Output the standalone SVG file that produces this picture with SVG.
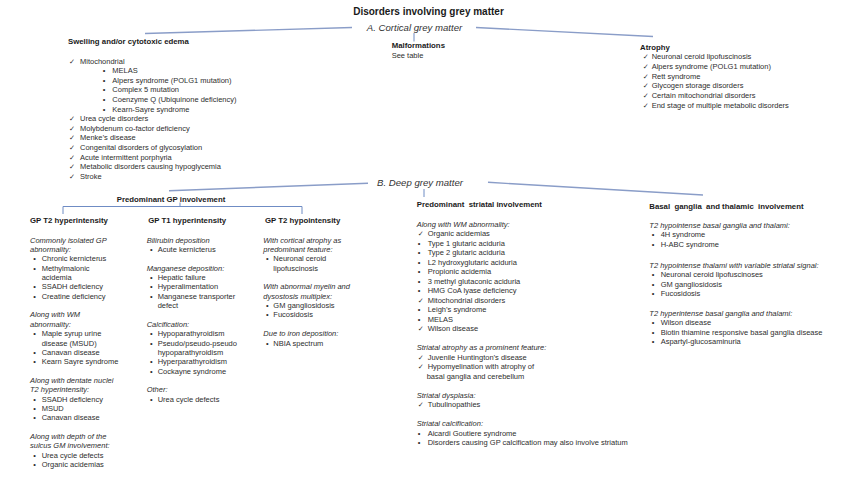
<svg xmlns="http://www.w3.org/2000/svg" width="850" height="478" viewBox="0 0 850 478">
<style>
text{font-family:"Liberation Sans",Arial,"DejaVu Sans",sans-serif;font-size:7.5px;fill:#2e2e2e}
.b{font-weight:bold;font-size:7.8px;fill:#1a1a1a}
.i{font-style:italic}
.h{font-style:italic;font-size:9.6px;fill:#333}
.ttl{font-weight:bold;font-size:10px;fill:#1a1a1a}
.ck{font-family:"DejaVu Sans",sans-serif;font-size:7.2px}
.ln{stroke:#8a9dc8;stroke-width:1.4;fill:none}
.br{stroke:#6f8cc4;stroke-width:1;fill:none}
</style>
<rect width="850" height="478" fill="#ffffff"/>
<g id="connectors">
<line class="ln" x1="145" y1="33.5" x2="352" y2="27.5"/>
<line class="ln" x1="476" y1="27.5" x2="653" y2="36.5"/>
<line class="br" x1="414" y1="33" x2="414" y2="41.5"/>
<line class="ln" x1="169" y1="190.7" x2="368" y2="183.3"/>
<line class="ln" x1="488" y1="182.3" x2="703" y2="195"/>
<line class="br" x1="424" y1="189" x2="424" y2="197"/>
<path class="br" d="M63 214 V206.5 H302 V214 M180 202.5 V206.5"/>
</g>
<g id="title"><text class="ttl" x="428.5" y="14.5" text-anchor="middle">Disorders involving grey matter</text></g>
<g id="cortical"><text class="h" x="414.5" y="30.6" text-anchor="middle">A. Cortical grey matter</text></g>
<g id="swelling">
<text class="b" x="68" y="43.5">Swelling and/or cytotoxic edema</text>
<text class="ck" x="69" y="63.5">✓</text><text x="80" y="63.5">Mitochondrial</text>
<text x="102.7" y="73.1">•</text><text x="112.3" y="73.1">MELAS</text>
<text x="102.7" y="82.7">•</text><text x="112.3" y="82.7">Alpers syndrome (POLG1 mutation)</text>
<text x="102.7" y="92.3">•</text><text x="112.3" y="92.3">Complex 5 mutation</text>
<text x="102.7" y="101.9">•</text><text x="112.3" y="101.9">Coenzyme Q (Ubiquinone deficiency)</text>
<text x="102.7" y="111.5">•</text><text x="112.3" y="111.5">Kearn-Sayre syndrome</text>
<text class="ck" x="69" y="121.1">✓</text><text x="80" y="121.1">Urea cycle disorders</text>
<text class="ck" x="69" y="130.7">✓</text><text x="80" y="130.7">Molybdenum co-factor deficiency</text>
<text class="ck" x="69" y="140.3">✓</text><text x="80" y="140.3">Menke’s disease</text>
<text class="ck" x="69" y="149.9">✓</text><text x="80" y="149.9">Congenital disorders of glycosylation</text>
<text class="ck" x="69" y="159.5">✓</text><text x="80" y="159.5">Acute intermittent porphyria</text>
<text class="ck" x="69" y="169.1">✓</text><text x="80" y="169.1">Metabolic disorders causing hypoglycemia</text>
<text class="ck" x="69" y="178.7">✓</text><text x="80" y="178.7">Stroke</text>
</g>
<g id="malformations">
<text class="b" x="391.7" y="47.8">Malformations</text>
<text x="391.7" y="58.2">See table</text>
</g>
<g id="atrophy">
<text class="b" x="640" y="49.5">Atrophy</text>
<text class="ck" x="642.7" y="59.2">✓</text><text x="651.7" y="59.2">Neuronal ceroid lipofuscinosis</text>
<text class="ck" x="642.7" y="68.9">✓</text><text x="651.7" y="68.9">Alpers syndrome (POLG1 mutation)</text>
<text class="ck" x="642.7" y="78.6">✓</text><text x="651.7" y="78.6">Rett syndrome</text>
<text class="ck" x="642.7" y="88.3">✓</text><text x="651.7" y="88.3">Glycogen storage disorders</text>
<text class="ck" x="642.7" y="98">✓</text><text x="651.7" y="98">Certain mitochondrial disorders</text>
<text class="ck" x="642.7" y="107.7">✓</text><text x="651.7" y="107.7">End stage of multiple metabolic disorders</text>
</g>
<g id="deep"><text class="h" x="420" y="186" text-anchor="middle">B. Deep grey matter</text></g>
<g id="gp"><text class="b" x="171" y="201.5" text-anchor="middle">Predominant GP involvement</text></g>
<g id="gp-t2-hyper">
<text class="b" x="30" y="222.8">GP T2 hyperintensity</text>
<text class="i" x="30" y="242.6">Commonly isolated GP</text>
<text class="i" x="30" y="252">abnormality:</text>
<text x="33.3" y="261.3">•</text><text x="41.7" y="261.3">Chronic kernicterus</text>
<text x="33.3" y="270.7">•</text><text x="41.7" y="270.7">Methylmalonic</text>
<text x="41.7" y="280">acidemia</text>
<text x="33.3" y="289.4">•</text><text x="41.7" y="289.4">SSADH deficiency</text>
<text x="33.3" y="298.7">•</text><text x="41.7" y="298.7">Creatine deficiency</text>
<text class="i" x="30" y="317.4">Along with WM</text>
<text class="i" x="30" y="326.8">abnormality:</text>
<text x="33.3" y="336.1">•</text><text x="41.7" y="336.1">Maple syrup urine</text>
<text x="41.7" y="345.5">disease (MSUD)</text>
<text x="33.3" y="354.8">•</text><text x="41.7" y="354.8">Canavan disease</text>
<text x="33.3" y="364.2">•</text><text x="41.7" y="364.2">Kearn Sayre syndrome</text>
<text class="i" x="30" y="382.9">Along with dentate nuclei</text>
<text class="i" x="30" y="392.2">T2 hyperintensity:</text>
<text x="33.3" y="401.6">•</text><text x="41.7" y="401.6">SSADH deficiency</text>
<text x="33.3" y="410.9">•</text><text x="41.7" y="410.9">MSUD</text>
<text x="33.3" y="420.3">•</text><text x="41.7" y="420.3">Canavan disease</text>
<text class="i" x="30" y="439">Along with depth of the</text>
<text class="i" x="30" y="448.3">sulcus GM involvement:</text>
<text x="33.3" y="457.7">•</text><text x="41.7" y="457.7">Urea cycle defects</text>
<text x="33.3" y="467">•</text><text x="41.7" y="467">Organic acidemias</text>
</g>
<g id="gp-t1-hyper">
<text class="b" x="148.3" y="222.8">GP T1 hyperintensity</text>
<text class="i" x="146.7" y="242.6">Bilirubin deposition</text>
<text x="150" y="252">•</text><text x="157.7" y="252">Acute kernicterus</text>
<text class="i" x="146.7" y="270.7">Manganese deposition:</text>
<text x="150" y="280">•</text><text x="157.7" y="280">Hepatic failure</text>
<text x="150" y="289.4">•</text><text x="157.7" y="289.4">Hyperalimentation</text>
<text x="150" y="298.7">•</text><text x="157.7" y="298.7">Manganese transporter</text>
<text x="157.7" y="308.1">defect</text>
<text class="i" x="146.7" y="326.8">Calcification:</text>
<text x="150" y="336.1">•</text><text x="157.7" y="336.1">Hypoparathyroidism</text>
<text x="150" y="345.5">•</text><text x="157.7" y="345.5">Pseudo/pseudo-pseudo</text>
<text x="157.7" y="354.8">hypoparathyroidism</text>
<text x="150" y="364.2">•</text><text x="157.7" y="364.2">Hyperparathyroidism</text>
<text x="150" y="373.5">•</text><text x="157.7" y="373.5">Cockayne syndrome</text>
<text class="i" x="146.7" y="392.2">Other:</text>
<text x="150" y="401.6">•</text><text x="157.7" y="401.6">Urea cycle defects</text>
</g>
<g id="gp-t2-hypo">
<text class="b" x="265" y="222.8">GP T2 hypointensity</text>
<text class="i" x="263.3" y="242.6">With cortical atrophy as</text>
<text class="i" x="263.3" y="252">predominant feature:</text>
<text x="266" y="261.3">•</text><text x="273.3" y="261.3">Neuronal ceroid</text>
<text x="273.3" y="270.7">lipofuscinosis</text>
<text class="i" x="263.3" y="289.4">With abnormal myelin and</text>
<text class="i" x="263.3" y="298.7">dysostosis multiplex:</text>
<text x="266" y="308.1">•</text><text x="273.3" y="308.1">GM gangliosidosis</text>
<text x="266" y="317.4">•</text><text x="273.3" y="317.4">Fucosidosis</text>
<text class="i" x="263.3" y="336.1">Due to iron deposition:</text>
<text x="266" y="345.5">•</text><text x="273.3" y="345.5">NBIA spectrum</text>
</g>
<g id="striatal">
<text class="b" x="416.7" y="206.8" xml:space="preserve">Predominant  striatal involvement</text>
<text class="i" x="416.7" y="226.6">Along with WM abnormality:</text>
<text class="ck" x="417.7" y="236.1">✓</text><text x="427.7" y="236.1">Organic acidemias</text>
<text x="417.7" y="245.6">•</text><text x="427.7" y="245.6">Type 1 glutaric aciduria</text>
<text x="417.7" y="255.1">•</text><text x="427.7" y="255.1">Type 2 glutaric aciduria</text>
<text x="417.7" y="264.6">•</text><text x="427.7" y="264.6">L2 hydroxyglutaric aciduria</text>
<text x="417.7" y="274.1">•</text><text x="427.7" y="274.1">Propionic acidemia</text>
<text x="417.7" y="283.6">•</text><text x="427.7" y="283.6">3 methyl glutaconic aciduria</text>
<text x="417.7" y="293.1">•</text><text x="427.7" y="293.1">HMG CoA lyase deficiency</text>
<text class="ck" x="417.7" y="302.6">✓</text><text x="427.7" y="302.6">Mitochondrial disorders</text>
<text x="417.7" y="312.1">•</text><text x="427.7" y="312.1">Leigh’s syndrome</text>
<text x="417.7" y="321.6">•</text><text x="427.7" y="321.6">MELAS</text>
<text class="ck" x="417.7" y="331.1">✓</text><text x="427.7" y="331.1">Wilson disease</text>
<text class="i" x="416.7" y="350.1">Striatal atrophy as a prominent feature:</text>
<text class="ck" x="417.7" y="359.6">✓</text><text x="427.7" y="359.6">Juvenile Huntington’s disease</text>
<text class="ck" x="417.7" y="369.1">✓</text><text x="427.7" y="369.1">Hypomyelination with atrophy of</text>
<text x="426.7" y="378.6">basal ganglia and cerebellum</text>
<text class="i" x="416.7" y="397.6">Striatal dysplasia:</text>
<text class="ck" x="417.7" y="407.1">✓</text><text x="427.7" y="407.1">Tubulinopathies</text>
<text class="i" x="416.7" y="426.1">Striatal calcification:</text>
<text x="417.7" y="435.6">•</text><text x="427.7" y="435.6">Aicardi Goutiere syndrome</text>
<text x="417.7" y="445.1">•</text><text x="427.7" y="445.1">Disorders causing GP calcification may also involve striatum</text>
</g>
<g id="basal-thalamic">
<text class="b" x="649.3" y="208.5" xml:space="preserve">Basal  ganglia  and thalamic  involvement</text>
<text class="i" x="649.3" y="227.6">T2 hypointense basal ganglia and thalami:</text>
<text x="651.7" y="237.1">•</text><text x="660.7" y="237.1">4H syndrome</text>
<text x="651.7" y="246.6">•</text><text x="660.7" y="246.6">H-ABC syndrome</text>
<text class="i" x="649.3" y="267.5">T2 hypointense thalami with variable striatal signal:</text>
<text x="651.7" y="277">•</text><text x="660.7" y="277">Neuronal ceroid lipofuscinoses</text>
<text x="651.7" y="286.5">•</text><text x="660.7" y="286.5">GM gangliosidosis</text>
<text x="651.7" y="296">•</text><text x="660.7" y="296">Fucosidosis</text>
<text class="i" x="649.3" y="316">T2 hyperintense basal ganglia and thalami:</text>
<text x="651.7" y="325.4">•</text><text x="660.7" y="325.4">Wilson disease</text>
<text x="651.7" y="334.9">•</text><text x="660.7" y="334.9">Biotin thiamine responsive basal ganglia disease</text>
<text x="651.7" y="344.3">•</text><text x="660.7" y="344.3">Aspartyl-glucosaminuria</text>
</g>
</svg>
